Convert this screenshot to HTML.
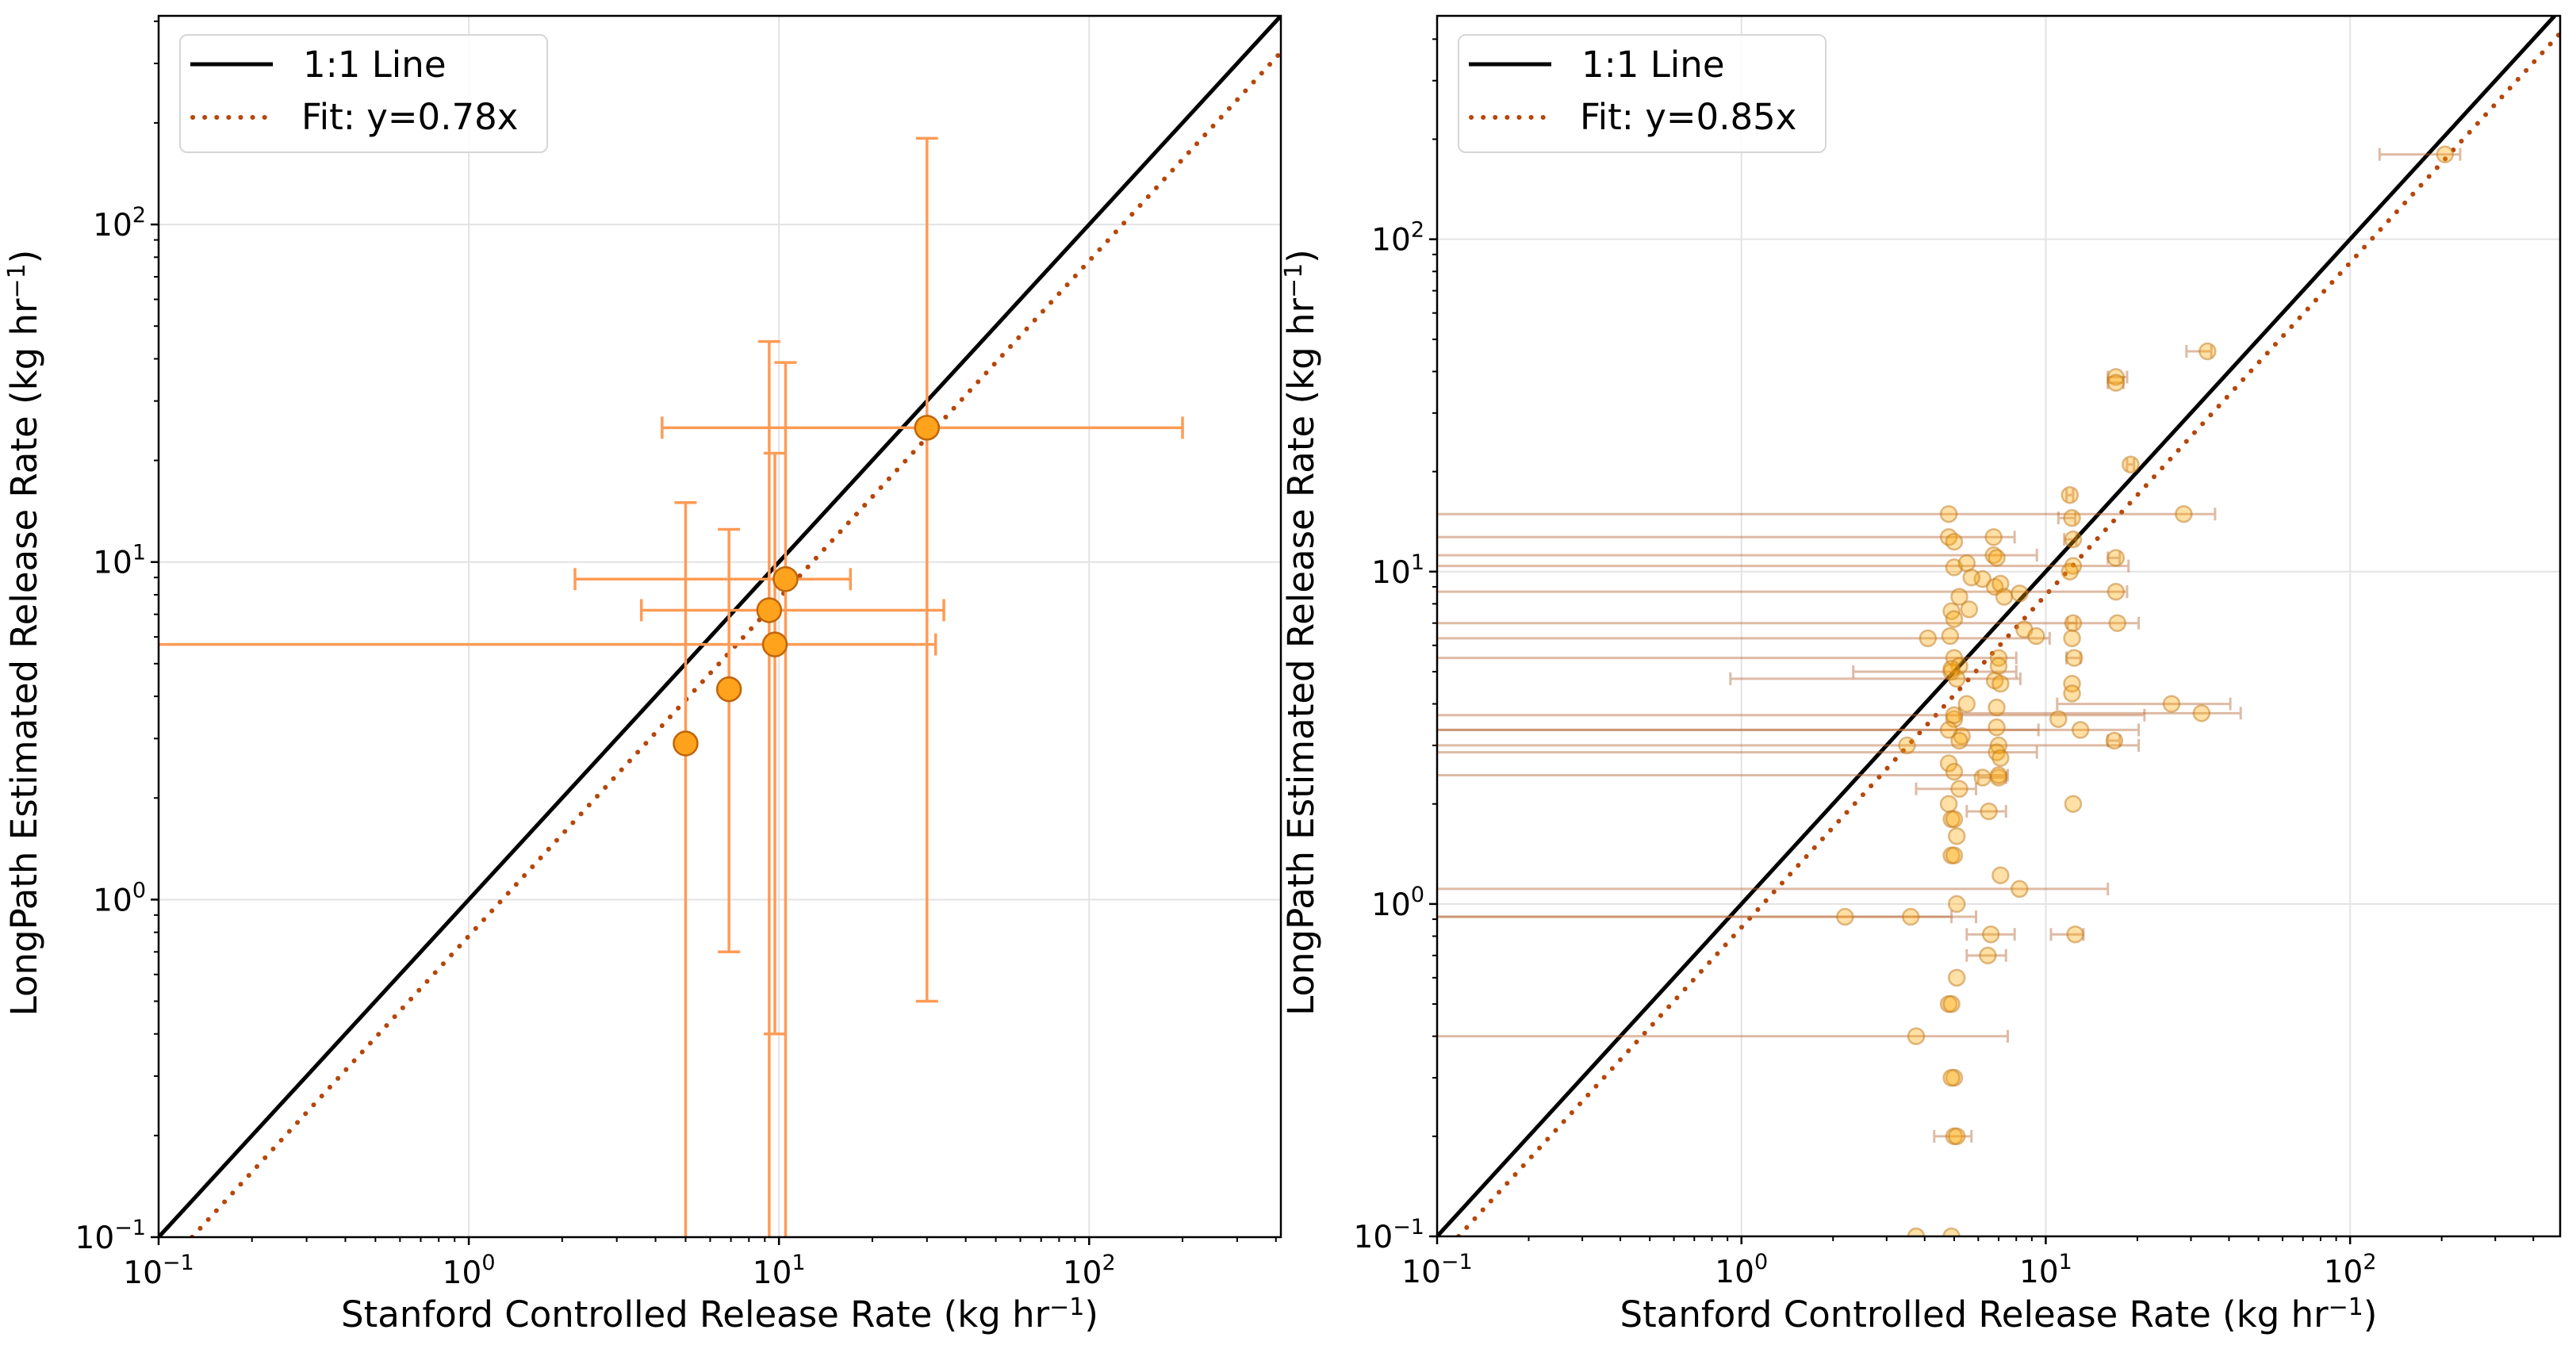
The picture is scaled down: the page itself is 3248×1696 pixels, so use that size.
<!DOCTYPE html>
<html><head><meta charset="utf-8"><style>
html,body{margin:0;padding:0;background:#fff;overflow:hidden;width:3248px;height:1696px;}
svg{display:block;position:absolute;left:0;top:0;font-family:"DejaVu Sans","Liberation Sans",sans-serif;}
</style></head><body>
<svg id="chart" width="3248" height="1696" viewBox="0 0 3248 1696" xmlns="http://www.w3.org/2000/svg"></svg>
<script>
// ---- Left panel data ----
const leftX = [5.0, 6.9, 9.3, 9.7, 10.5, 30];
const leftY = [2.9, 4.2, 7.2, 5.7, 8.9, 25];
const leftXlo = [5.0, 6.9, 3.6, 0.01, 2.2, 4.2];
const leftXhi = [5.0, 6.9, 34, 32, 17, 200];
const leftYlo = [0.01, 0.7, 0.01, 0.4, 0.01, 0.5];
const leftYhi = [15, 12.5, 45, 21, 39, 180];
const leftFit = 0.78;
// ---- Right panel data ----
const rightX = [205,34,17,17,19,12,28.4,4.8,12.2,6.74,4.8,5.0,12.3,6.74,6.9,17,12.3,5.0,5.5,6.2,6.8,7.1,7.3,8.2,5.7,12,17,5.2,4.9,5.0,5.6,17.2,12.3,8.5,4.1,9.3,4.85,12.2,5.0,7.0,12.4,5.2,4.9,7.0,5.1,4.9,6.8,7.1,12.2,12.2,25.9,6.9,5.5,32.5,11,5.0,5.0,13,4.8,5.3,6.9,16.8,5.2,3.5,7.0,6.9,7.1,4.8,5.0,6.2,7.0,7.0,5.2,4.8,6.5,12.3,4.9,5.0,5.1,4.9,5.0,7.1,8.2,5.1,3.6,2.19,6.6,12.5,6.45,5.1,4.8,4.9,3.75,5.0,4.9,5.0,5.1,4.9,3.75];
const rightY = [180,46,38.5,37,21,17,14.9,14.9,14.5,12.7,12.7,12.3,12.5,11.2,11.0,11.0,10.4,10.3,10.6,9.5,9.0,9.2,8.4,8.6,9.6,10,8.7,8.4,7.6,7.2,7.7,7.0,7.0,6.7,6.3,6.4,6.4,6.3,5.5,5.5,5.5,5.2,5.0,5.2,4.76,5.1,4.7,4.6,4.6,4.3,4.0,3.9,4.0,3.75,3.6,3.6,3.7,3.34,3.34,3.2,3.4,3.1,3.1,3.0,3.0,2.86,2.75,2.65,2.5,2.4,2.4,2.44,2.22,2.0,1.9,2.0,1.8,1.8,1.6,1.4,1.4,1.22,1.11,1.0,0.915,0.915,0.81,0.81,0.70,0.60,0.5,0.5,0.40,0.3,0.3,0.2,0.2,0.1,0.1];
const rightXlo = [125,29,16,16,18.5,11.7,0.01,4.8,11,0.01,4.8,5.0,11.5,0.01,6.9,16,0.01,5.0,5.5,6.2,6.8,7.1,7.3,8.2,5.7,12,0.01,5.2,4.9,5.0,5.6,0.01,11.8,8.5,0.01,9.3,4.85,12.2,0.01,7.0,11.7,5.2,2.33,7.0,0.92,4.9,6.8,7.1,12.2,12.2,10.9,6.9,5.5,5.2,11,5.0,0.01,0.01,0.01,5.3,6.9,16,5.2,0.01,7.0,0.01,7.1,4.8,5.0,6.2,6.0,0.01,3.75,4.8,5.5,12.3,4.9,5.0,5.1,4.9,5.0,7.1,0.01,5.1,0.01,0.01,5.5,10.4,5.5,5.1,4.8,4.9,0.01,5.0,4.9,4.3,5.1,4.9,3.75];
const rightXhi = [230,35,18.5,18,19.5,12.3,36,4.8,12.5,7.9,4.8,5.0,12.6,9.35,6.9,17.5,18.7,5.0,5.5,6.2,6.8,7.1,7.3,8.2,5.7,12,18.5,5.2,4.9,5.0,5.6,20.2,12.6,8.5,10.3,9.3,4.85,12.2,8.0,7.0,13,5.2,8.0,7.0,8.25,4.9,6.8,7.1,12.2,12.2,40.4,6.9,5.5,43.7,11,5.0,21.1,20.2,9.46,5.3,6.9,17.5,5.2,20.2,7.0,9.35,7.1,4.8,5.0,6.2,7.4,7.5,5.9,4.8,7.4,12.3,4.9,5.0,5.1,4.9,5.0,7.1,16,5.1,5.9,4.9,7.9,13.3,7.4,5.1,4.8,4.9,7.5,5.0,4.9,5.7,5.1,4.9,3.75];
const rightFit = 0.85;
const tickExps = [-1, 0, 1, 2];

const NS = "http://www.w3.org/2000/svg";
const svg = document.getElementById('chart');
function mk(tag, attrs, parent){ const e=document.createElementNS(NS,tag); for(const k in attrs) e.setAttribute(k,attrs[k]); (parent||svg).appendChild(e); return e; }

function panel(cfg){
  const {id, x0, x1, y0, y1, xmax, ymax} = cfg;
  const lx0=-1, lx1=Math.log10(xmax), ly0=-1, ly1=Math.log10(ymax);
  const sx = v => x0 + (Math.log10(v)-lx0)/(lx1-lx0)*(x1-x0);
  const sy = v => y1 - (Math.log10(v)-ly0)/(ly1-ly0)*(y1-y0);
  const cx = v => Math.max(x0, Math.min(x1, sx(v)));
  const cy = v => Math.max(y0, Math.min(y1, sy(v)));
  const inX = v => v>=0.1 && v<=xmax;
  const inY = v => v>=0.1 && v<=ymax;
  const g = mk('g',{});
  
  
  const cp = mk('clipPath',{id:id+'-clip'}, g);
  mk('rect',{x:x0,y:y0,width:x1-x0,height:y1-y0},cp);
  const grid = mk('g',{},g);
  
  
  tickExps.forEach(e=>{
    const v=Math.pow(10,e);
    const X=sx(v), Y=sy(v);
    if(X>x0+1) mk('line',{x1:X,x2:X,y1:y0,y2:y1,stroke:'#e3e3e3','stroke-width':2},grid);
    if(Y<y1-1) mk('line',{x1:x0,x2:x1,y1:Y,y2:Y,stroke:'#e3e3e3','stroke-width':2},grid);
  });
  const plot = mk('g',{'clip-path':`url(#${id}-clip)`},g);
  const top1 = Math.min(xmax, ymax);
  const l1 = mk('line',{x1:sx(0.1),y1:sy(0.1),x2:sx(top1),y2:sy(top1),stroke:'#000','stroke-width':5},plot);
  
  
  const fx0 = 0.1/cfg.fit, fx1 = Math.min(xmax, ymax/cfg.fit);
  const lf = mk('line',{x1:sx(fx0),y1:sy(fx0*cfg.fit),x2:sx(fx1),y2:sy(fx1*cfg.fit),stroke:'#b5470b','stroke-width':6,'stroke-dasharray':'0.1 15','stroke-linecap':'round'},plot);
  
  
  const n = cfg.xs.length;
  for(let i=0;i<n;i++){
    const X=sx(cfg.xs[i]), Y=sy(cfg.ys[i]);
    const eg = mk('g',{stroke:cfg.ecol,'stroke-width':cfg.ew,opacity:cfg.eop},plot);
    
    
    const xl=cfg.xlo[i], xh=cfg.xhi[i];
    if(xh>xl){
      mk('line',{x1:cx(xl),x2:cx(xh),y1:Y,y2:Y},eg);
      [xl,xh].forEach(v=>{ if(inX(v)) mk('line',{x1:sx(v),x2:sx(v),y1:Y-cfg.cap,y2:Y+cfg.cap},eg); });
    }
    if(cfg.ylo){
      const yl=cfg.ylo[i], yh=cfg.yhi[i];
      mk('line',{x1:X,x2:X,y1:cy(yl),y2:cy(yh)},eg);
      [yl,yh].forEach(v=>{ if(inY(v)) mk('line',{x1:X-cfg.cap,x2:X+cfg.cap,y1:sy(v),y2:sy(v)},eg); });
    }
  }
  for(let i=0;i<n;i++){
    const c = mk('circle',{cx:sx(cfg.xs[i]),cy:sy(cfg.ys[i]),r:cfg.r,fill:cfg.pfill,'fill-opacity':cfg.pop,stroke:cfg.pstroke,'stroke-opacity':cfg.psop,'stroke-width':2.5},plot);
    
    
  }
  const fr = mk('rect',{x:x0,y:y0,width:x1-x0,height:y1-y0,fill:'none',stroke:'#000','stroke-width':2.5},g);
  
  
  for(let e=-1;e<=3;e++){
    for(let m=1;m<10;m++){
      const v=m*Math.pow(10,e);
      const major = m===1, len = major?10:6;
      if(v>=0.1 && v<=xmax){ const X=sx(v); mk('line',{x1:X,x2:X,y1:y1,y2:y1+len,stroke:'#000','stroke-width':major?2.5:2},g); }
      if(v>=0.1 && v<=ymax){ const Y=sy(v); mk('line',{x1:x0-len,x2:x0,y1:Y,y2:Y,stroke:'#000','stroke-width':major?2.5:2},g); }
    }
  }
  tickExps.forEach(e=>{
    const v=Math.pow(10,e);
    const tx = mk('text',{x:sx(v),y:y1+58,'font-size':39,'text-anchor':'middle',fill:'#000'},g);
    
    
    tx.innerHTML = `10<tspan dy="-17" font-size="27">${e<0?'\u2212'+(-e):e}</tspan>`;
    const ty = mk('text',{x:x0-16,y:sy(v)+14,'font-size':39,'text-anchor':'end',fill:'#000'},g);
    
    
    ty.innerHTML = `10<tspan dy="-17" font-size="27">${e<0?'\u2212'+(-e):e}</tspan>`;
  });
  const xt = mk('text',{x:(x0+x1)/2,y:1673,'font-size':45,'text-anchor':'middle',fill:'#000'},g);
  
  
  xt.innerHTML = 'Stanford Controlled Release Rate (kg hr<tspan dy="-15" font-size="30">\u22121</tspan><tspan dy="15">)</tspan>';
  const yt = mk('text',{x:0,y:0,'font-size':45,'text-anchor':'middle',fill:'#000',transform:`translate(${cfg.ytx},${(y0+y1)/2+8}) rotate(-90)`},g);
  
  
  yt.innerHTML = 'LongPath Estimated Release Rate (kg hr<tspan dy="-15" font-size="30">\u22121</tspan><tspan dy="15">)</tspan>';
  const lg = mk('g',{},g);
  
  
  const L = x0+27;
  mk('rect',{x:L,y:44,width:463,height:148,rx:9,fill:'#fff','fill-opacity':0.85,stroke:'#d6d6d6','stroke-width':2},lg);
  mk('line',{x1:L+13,x2:L+117,y1:81,y2:81,stroke:'#000','stroke-width':5},lg);
  mk('line',{x1:L+16,x2:L+117,y1:148,y2:148,stroke:'#b5470b','stroke-width':6,'stroke-dasharray':'0.1 15','stroke-linecap':'round'},lg);
  const t1 = mk('text',{x:L+155,y:97,'font-size':45,fill:'#000'},lg);
  t1.textContent='1:1 Line';
  
  
  const t2 = mk('text',{x:L+153,y:163,'font-size':45,fill:'#000'},lg);
  t2.textContent='Fit: y='+cfg.fit.toFixed(2)+'x';
  
  
}

panel({id:'left',x0:200,x1:1615,y0:20,y1:1560,xmax:415,ymax:415,fit:leftFit,
  xs:leftX,ys:leftY,xlo:leftXlo,xhi:leftXhi,ylo:leftYlo,yhi:leftYhi,
  ecol:'#ff9b55',ew:3.5,eop:1,cap:14,r:15,pfill:'#ffa21c',pop:1,pstroke:'#c0650a',psop:1,ytx:46});
panel({id:'right',x0:1812,x1:3228,y0:20,y1:1559,xmax:490,ymax:470,fit:rightFit,
  xs:rightX,ys:rightY,xlo:rightXlo,xhi:rightXhi,
  ecol:'#b86a3a',ew:3,eop:0.45,cap:8,r:10,pfill:'#ffa500',pop:0.35,pstroke:'#c07a20',psop:0.5,ytx:1656});
</script>
</body></html>
